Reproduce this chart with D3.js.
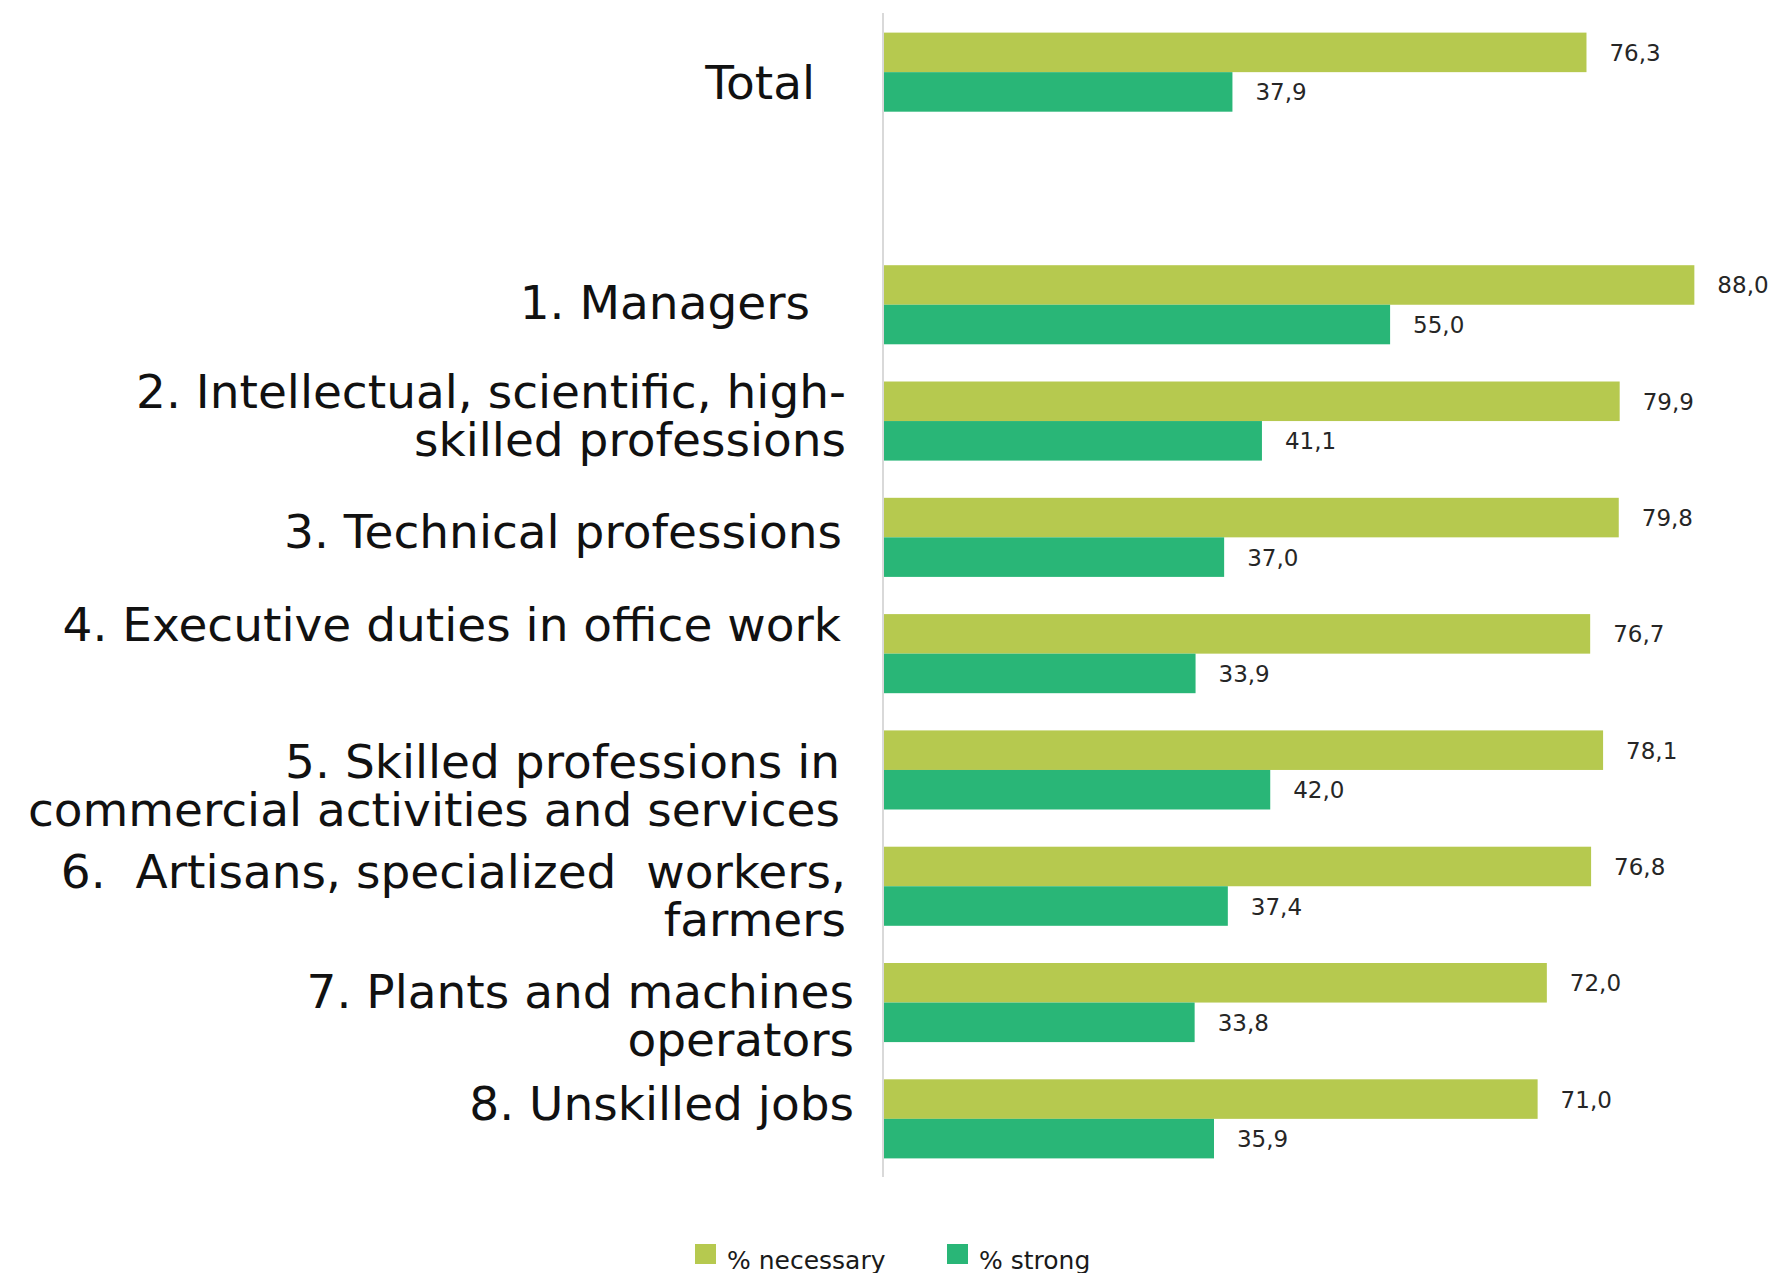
<!DOCTYPE html>
<html>
<head>
<meta charset="utf-8">
<script src="https://cdn.jsdelivr.net/npm/d3@7/dist/d3.min.js"></script>
<style>
  body { margin: 0; background: #fff; }
  svg text { white-space: pre; }
</style>
</head>
<body>
<div id="chart"></div>
<script>
// categories (empty slot between Total and the groups, as in the original)
var categories = [
  "Total",
  "",
  "1. Managers",
  "2. Intellectual, scientific, high-\nskilled professions",
  "3. Technical professions",
  "4. Executive duties in office work",
  "5. Skilled professions in\ncommercial activities and services",
  "6.  Artisans, specialized  workers,\nfarmers",
  "7. Plants and machines\noperators",
  "8. Unskilled jobs"
];

var seriesNames = ["% necessary", "% strong"];
var necessary = [76.3, null, 88.0, 79.9, 79.8, 76.7, 78.1, 76.8, 72.0, 71.0];
var strong    = [37.9, null, 55.0, 41.1, 37.0, 33.9, 42.0, 37.4, 33.8, 35.9];

var colors = ["#b6c94f", "#29b677"];

// label nudges [dx, dy], the original text boxes were placed by hand
var labelShift = [[-30, 10], [0, 0], [-35, -3], [1, -6], [-3, -6], [-4, -30], [-5, 15], [1, 9], [9, 12], [9, -16]];

var width = 1779, height = 1273;
var axisX = 883;

var svg = d3.select("#chart").append("svg")
  .attr("width", width)
  .attr("height", height);

var y = d3.scaleBand()
  .domain(d3.range(categories.length))
  .range([14, 1177])
  .paddingInner(0.32)
  .paddingOuter(0.16);

var ySub = d3.scaleBand()
  .domain(d3.range(seriesNames.length))
  .range([0, y.bandwidth()]);

var x = d3.scaleLinear().domain([0, 100]).range([axisX, axisX + 922]);

var rows = categories.map(function(c, i) {
  return { i: i, label: c, values: [necessary[i], strong[i]] };
});

// vertical axis line
svg.append("line")
  .attr("x1", axisX).attr("x2", axisX)
  .attr("y1", 13).attr("y2", 1177)
  .attr("stroke", "#d9d9d9")
  .attr("stroke-width", 2);

var groups = svg.selectAll(".group")
  .data(rows.filter(function(d) { return d.values[0] != null; }))
  .enter().append("g")
  .attr("class", "group")
  .attr("transform", function(d) { return "translate(0," + y(d.i) + ")"; });

var bars = groups.selectAll(".bar")
  .data(function(d) { return d.values.map(function(v, k) { return { k: k, v: v }; }); })
  .enter();

bars.append("rect")
  .attr("class", "bar")
  .attr("x", x(0) + 1)
  .attr("y", function(d) { return ySub(d.k); })
  .attr("width", function(d) { return x(d.v) - x(0) - 1; })
  .attr("height", ySub.bandwidth())
  .attr("fill", function(d) { return colors[d.k]; });

bars.append("text")
  .attr("x", function(d) { return x(d.v) + 23; })
  .attr("y", function(d) { return ySub(d.k) + ySub.bandwidth() / 2 + 8.5; })
  .attr("font-family", "DejaVu Sans")
  .attr("font-size", 23)
  .attr("fill", "#262626")
  .text(function(d) { return d3.format(".1f")(d.v).replace(".", ","); });

// category labels
var fontSize = 47, lineH = 48, capH = 0.729 * fontSize;
rows.forEach(function(d) {
  if (!d.label) return;
  var lines = d.label.split("\n");
  var cy = y(d.i) + y.bandwidth() / 2 + labelShift[d.i][1];
  var t = svg.append("text")
    .attr("text-anchor", "end")
    .attr("font-family", "DejaVu Sans")
    .attr("font-size", fontSize)
    .attr("fill", "#111");
  lines.forEach(function(l, j) {
    t.append("tspan")
      .attr("x", 845 + labelShift[d.i][0])
      .attr("y", cy - (lines.length - 1) * lineH / 2 + capH / 2 + j * lineH)
      .text(l);
  });
});

// legend
var legend = svg.selectAll(".legend")
  .data(seriesNames)
  .enter().append("g")
  .attr("class", "legend")
  .attr("transform", function(d, i) { return "translate(" + (695 + i * 252) + ",1244)"; });

legend.append("rect")
  .attr("width", 21)
  .attr("height", 20)
  .attr("fill", function(d, i) { return colors[i]; });

legend.append("text")
  .attr("x", 32)
  .attr("y", 25)
  .attr("font-family", "DejaVu Sans")
  .attr("font-size", 25)
  .attr("fill", "#1a1a1a")
  .text(function(d) { return d; });
</script>
</body>
</html>
